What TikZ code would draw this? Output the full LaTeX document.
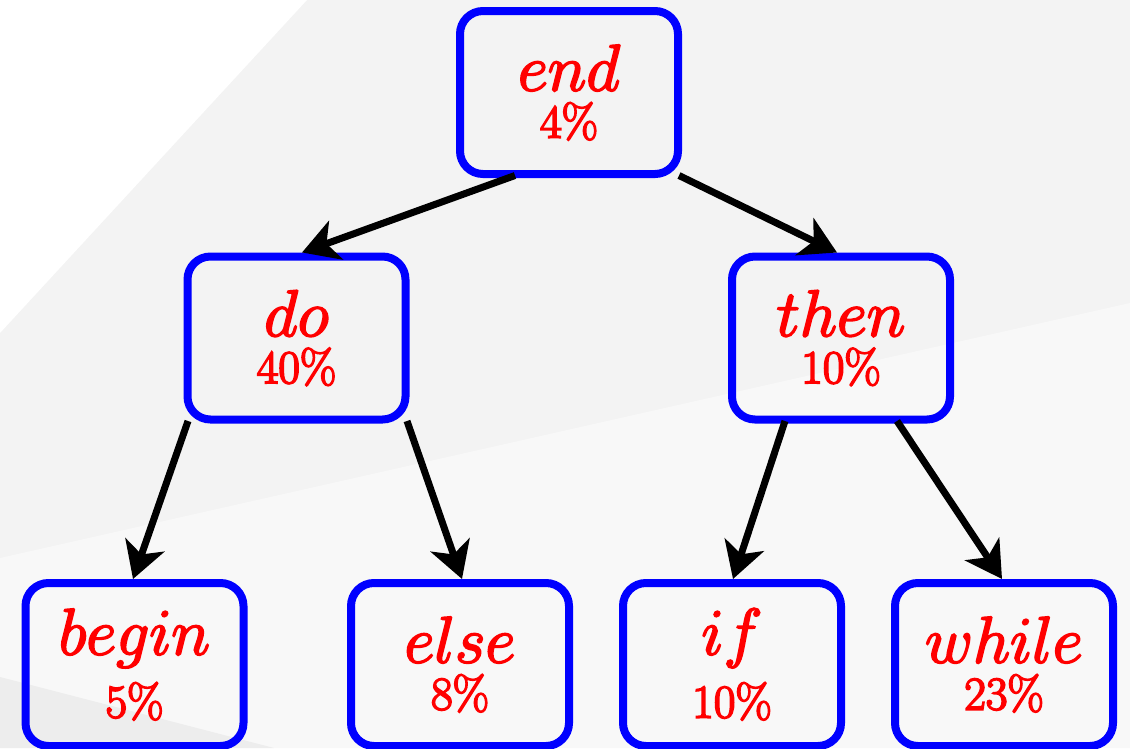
\RequirePackage{fix-cm}
\documentclass[tikz,border=0pt]{standalone}
\usetikzlibrary{arrows.meta,calc}
\definecolor{bgmain}{RGB}{243,243,243}
\definecolor{bglight}{RGB}{248,248,248}
\definecolor{bgdark}{RGB}{237,237,237}
\newcommand\heavyon{\special{pdf:literal direct 2 Tr 1.8 w}}
\newcommand\heavyoff{\special{pdf:literal direct 0 Tr}}
\newcommand\twolbl[3]{\heavyon\vbox{\baselineskip=#3\relax\lineskiplimit=-200pt\relax
  \halign{\hfil##\hfil\cr\fontsize{66}{66}\selectfont$#1$\cr\fontsize{47}{47}\selectfont #2\cr}}\heavyoff}
\tikzset{
  kbox/.style={draw=blue, line width=8pt, rounded corners=23pt,
    minimum width=218pt, minimum height=163pt, inner sep=0pt, text=red},
  edge/.style={draw=black, line width=7pt,
    -{Stealth[length=36pt,width=41pt,inset=10pt]}}
}
\begin{document}
\begin{tikzpicture}[x=1pt,y=-1pt]
\useasboundingbox (0,0) rectangle (1130,748);
% background
\fill[bgmain] (0,0) rectangle (1130,748);
\fill[white] (0,0) -- (307,0) -- (0,333) -- cycle;
\fill[bglight] (0,558) -- (1130,303) -- (1130,748) -- (0,748) -- cycle;
\fill[bgdark] (0,677) -- (274,748) -- (0,748) -- cycle;
% nodes
\node[kbox] (nEnd)   at (569,92.5)  {\twolbl{end}{4\%}{47pt}};
\node[kbox] (nDo)    at (296.5,338) {\twolbl{do}{40\%}{47pt}};
\node[kbox] (nThen)  at (841,338)   {\twolbl{then}{10\%}{47pt}};
\node[kbox] (nBegin) at (134.5,664.5) {\twolbl{begin}{5\%}{63pt}};
\node[kbox] (nElse)  at (460,664.5) {\twolbl{else}{8\%}{47pt}};
\node[kbox] (nIf)    at (732,664.5) {\twolbl{if}{10\%}{63pt}};
\node[kbox] (nWhile) at (1004,664.5) {\twolbl{while}{23\%}{47pt}};
% edges
\draw[edge] ($(nEnd.center)+(-54,83)$) -- ($(nDo.north)+(5.5,0)$);
\draw[edge] ($(nEnd.center)+(110,83)$) -- ($(nThen.north)+(-4,0)$);
\draw[edge] ($(nDo.center)+(-108.5,83)$) -- ($(nBegin.north)+(-1.5,0)$);
\draw[edge] ($(nDo.center)+(110.5,83)$) -- ($(nElse.north)+(2,0)$);
\draw[edge] ($(nThen.center)+(-56,83)$) -- ($(nIf.north)+(1,0)$);
\draw[edge] ($(nThen.center)+(56,83)$) -- ($(nWhile.north)+(-2,0)$);
\end{tikzpicture}
\end{document}
